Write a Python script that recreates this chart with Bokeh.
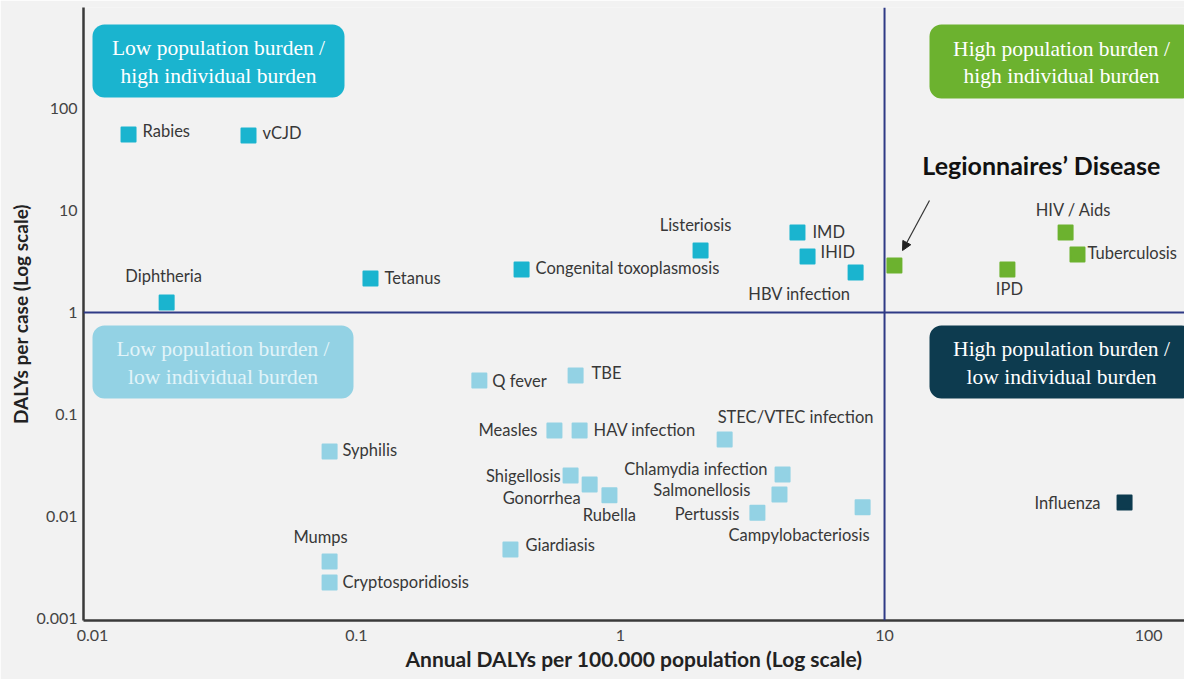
from bokeh.plotting import figure
from bokeh.models import (ColumnDataSource, Span, BoxAnnotation, Label, Arrow,
                          NormalHead, FixedTicker, CustomJSTickFormatter)
from bokeh.core.properties import value, field
from bokeh.embed import file_html
from bokeh.resources import INLINE

# ---------------- data ----------------
diseases = ["Rabies", "vCJD", "Diphtheria", "Tetanus", "Congenital toxoplasmosis",
            "Listeriosis", "IMD", "IHID", "HBV infection", "Legionnaires’ Disease",
            "IPD", "HIV / Aids", "Tuberculosis", "Q fever", "TBE", "Measles",
            "HAV infection", "STEC/VTEC infection", "Syphilis", "Shigellosis",
            "Gonorrhea", "Rubella", "Chlamydia infection", "Salmonellosis",
            "Pertussis", "Campylobacteriosis", "Giardiasis", "Mumps",
            "Cryptosporidiosis", "Influenza"]
annual_dalys_per_100k = [0.0137, 0.039, 0.0191, 0.113, 0.422,
                         2.01, 4.68, 5.11, 7.77, 10.9,
                         29.2, 48.5, 53.8, 0.292, 0.676, 0.562,
                         0.700, 2.48, 0.0791, 0.647,
                         0.764, 0.908, 4.11, 4.00,
                         3.30, 8.26, 0.383, 0.0791,
                         0.0791, 81.1]
dalys_per_case = [55.6, 54.4, 1.25, 2.15, 2.64,
                  4.05, 6.09, 3.54, 2.47, 2.89,
                  2.64, 6.09, 3.70, 0.215, 0.241, 0.0697,
                  0.0697, 0.0569, 0.0434, 0.0252,
                  0.0206, 0.0161, 0.0258, 0.0164,
                  0.0109, 0.0123, 0.00475, 0.00362,
                  0.00225, 0.0137]

x_ticks = [0.01, 0.1, 1, 10, 100]
y_ticks = [0.001, 0.01, 0.1, 1, 10, 100]
X_THRESHOLD = 10     # population burden split
Y_THRESHOLD = 1      # individual burden split
HIGHLIGHT = "Legionnaires’ Disease"
x_title = "Annual DALYs per 100.000 population (Log scale)"
y_title = "DALYs per case (Log scale)"

quadrant_titles = {
    "tl": "Low population burden /\nhigh individual burden",
    "tr": "High population burden /\nhigh individual burden",
    "bl": "Low population burden /\nlow individual burden",
    "br": "High population burden /\nlow individual burden",
}

# ---------------- styles / placement ----------------
QUAD_COLORS = {"tl": "#1ab4cf", "tr": "#6cb22f", "bl": "#93d2e4", "br": "#0d3b4f"}
QUAD_TEXT = {"tl": "#ffffff", "tr": "#ffffff", "bl": "#e2f4f9", "br": "#ffffff"}
# box geometry in px relative to frame (left, right, top, bottom measured from top)
QUAD_BOX = {"tl": (9, 261, 17, 90), "tr": (846, 1110, 17, 91),
            "bl": (9, 270, 318, 391), "br": (846, 1110, 318, 391)}

LABEL_PLACEMENT = {
    "Rabies": (14, -3, "left"), "vCJD": (14, -2, "left"),
    "Diphtheria": (-3, -27, "center"), "Tetanus": (14, -1, "left"),
    "Congenital toxoplasmosis": (14, -1, "left"), "Listeriosis": (-5, -26, "center"),
    "IMD": (15, 0, "left"), "IHID": (13, -4, "left"),
    "HBV infection": (-5, 22, "right"), "IPD": (2, 20, "center"),
    "HIV / Aids": (8, -22, "center"), "Tuberculosis": (10, -2, "left"),
    "Q fever": (13, 0, "left"), "TBE": (16, -2, "left"),
    "Measles": (-17, 0, "right"), "HAV infection": (14, 0, "left"),
    "STEC/VTEC infection": (-7, -22, "left"), "Syphilis": (13, -1, "left"),
    "Shigellosis": (-10, 0, "right"), "Gonorrhea": (-9, 14, "right"),
    "Rubella": (0, 20, "center"), "Chlamydia infection": (-15, -5, "right"),
    "Salmonellosis": (-29, -5, "right"), "Pertussis": (-18, 1, "right"),
    "Campylobacteriosis": (7, 28, "right"), "Giardiasis": (15, -4, "left"),
    "Mumps": (-9, -24, "center"), "Cryptosporidiosis": (13, -1, "left"),
    "Influenza": (-24, 0, "right"),
}
HIGHLIGHT_PLACEMENT = (147, -100)

X_RANGE = (0.00925, 136.8)
Y_RANGE = (0.000955, 977)
W, H = 1184, 679
MB_L, MB_R, MB_T, MB_B = 83, 0, 7, 59
FH = H - MB_T - MB_B
BG = "#f2f2f2"


def quadrant(x, y):
    return ("t" if y >= Y_THRESHOLD else "b") + ("r" if x >= X_THRESHOLD else "l")


colors = [QUAD_COLORS[quadrant(x, y)] for x, y in zip(annual_dalys_per_100k, dalys_per_case)]

p = figure(width=W, height=H, x_axis_type="log", y_axis_type="log",
           x_range=X_RANGE, y_range=Y_RANGE, output_backend="svg",
           toolbar_location=None, min_border_left=MB_L, min_border_right=MB_R,
           min_border_top=MB_T, min_border_bottom=MB_B)
p.background_fill_color = BG
p.border_fill_color = BG
p.outline_line_color = None
p.grid.visible = False

# quadrant boxes
for key in ["tl", "tr", "bl", "br"]:
    l, r, t, b = QUAD_BOX[key]
    p.add_layout(BoxAnnotation(left=l, right=r, top=FH - t, bottom=FH - b,
                               left_units="screen", right_units="screen",
                               top_units="screen", bottom_units="screen",
                               fill_color=QUAD_COLORS[key], fill_alpha=1.0,
                               line_color=None, border_radius=12))
    p.add_layout(Label(x=(l + r) / 2, y=FH - (t + b) / 2 - 1, x_units="screen", y_units="screen",
                       text=quadrant_titles[key], text_align="center", text_baseline="middle",
                       text_font="Liberation Serif", text_font_size="21.5px",
                       text_color=QUAD_TEXT[key], text_line_height=1.15))

# threshold lines
p.add_layout(Span(location=X_THRESHOLD, dimension="height", line_color="#2f3a86", line_width=2))
p.add_layout(Span(location=Y_THRESHOLD, dimension="width", line_color="#2f3a86", line_width=2))

src = ColumnDataSource(dict(x=annual_dalys_per_100k, y=dalys_per_case, name=diseases, color=colors))
p.scatter(x="x", y="y", source=src, marker="square", size=14, fill_color="color",
          line_color="color", line_width=2, line_join="round")

# small labels
lab = dict(x=[], y=[], text=[], dx=[], dy=[], align=[])
for n, x, y in zip(diseases, annual_dalys_per_100k, dalys_per_case):
    if n in LABEL_PLACEMENT:
        dx, dy, al = LABEL_PLACEMENT[n]
        lab["x"].append(x); lab["y"].append(y); lab["text"].append(n)
        lab["dx"].append(dx); lab["dy"].append(dy); lab["align"].append(al)
p.text(x="x", y="y", text="text", x_offset="dx", y_offset="dy", text_align=field("align"),
       text_baseline="middle", text_font=value("Lato"), text_font_size="16.5px",
       text_color="#383838", source=ColumnDataSource(lab))

# highlighted disease
i = diseases.index(HIGHLIGHT)
hx, hy = annual_dalys_per_100k[i], dalys_per_case[i]
p.text(x=[hx], y=[hy], text=[HIGHLIGHT], x_offset=HIGHLIGHT_PLACEMENT[0],
       y_offset=HIGHLIGHT_PLACEMENT[1], text_align="center", text_baseline="middle",
       text_font=value("Lato"), text_font_style="bold", text_font_size="25px",
       text_color="#111111")
p.add_layout(Arrow(end=NormalHead(size=9, fill_color="#222222", line_color="#222222"),
                   x_start=14.8, y_start=12.5, x_end=11.7, y_end=4.05,
                   line_color="#333333", line_width=1.2))

fmt = CustomJSTickFormatter(code="return tick.toString();")
for ax, ticks in ((p.xaxis[0], x_ticks), (p.yaxis[0], y_ticks)):
    ax.ticker = FixedTicker(ticks=ticks)
    ax.formatter = fmt
    ax.major_tick_line_color = None
    ax.minor_tick_line_color = None
    ax.major_tick_out = 0
    ax.major_tick_in = 0
    ax.minor_tick_out = 0
    ax.axis_line_color = "#3a3a3a"
    ax.axis_line_width = 2.5
    ax.major_label_text_font = "Lato"
    ax.major_label_text_font_size = "16px"
    ax.major_label_text_color = "#444444"
    ax.axis_label_text_font = "Lato"
    ax.axis_label_text_font_style = "bold"
    ax.axis_label_text_color = "#222222"

p.xaxis[0].axis_label = x_title
p.xaxis[0].axis_label_text_font_size = "21px"
p.xaxis[0].major_label_standoff = 9
p.xaxis[0].axis_label_standoff = 2
p.yaxis[0].axis_label = y_title
p.yaxis[0].axis_label_text_font_size = "19px"
p.yaxis[0].major_label_standoff = 6
p.yaxis[0].axis_label_standoff = 2

open("out.html", "w").write(file_html(p, INLINE))
